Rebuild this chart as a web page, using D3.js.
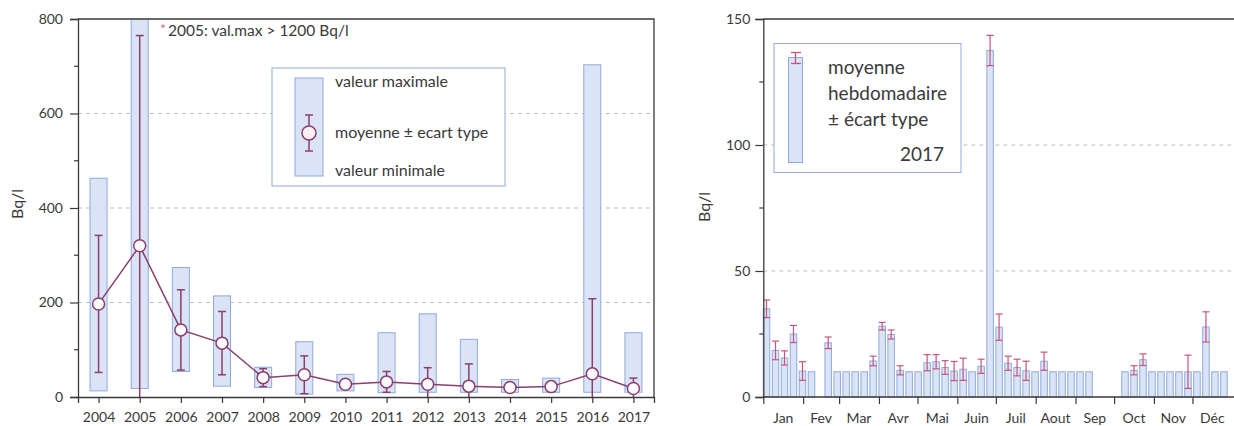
<!DOCTYPE html>
<html>
<head>
<meta charset="utf-8">
<script src="https://cdn.jsdelivr.net/npm/d3@7"></script>
<style>
  html, body { margin: 0; padding: 0; background: #fff; }
  svg { display: block; font-family: Lato, "Open Sans", sans-serif; }
</style>
</head>
<body>
<svg id="chart" width="1234" height="426"></svg>
<script>
// ---- Annual summary 2004-2017 (Bq/l) ----
const years    = [2004, 2005, 2006, 2007, 2008, 2009, 2010, 2011, 2012, 2013, 2014, 2015, 2016, 2017];
const maxVals  = [463, 1220, 274, 214, 63, 117, 48, 136, 176, 122, 37, 40, 703, 136];
const minVals  = [13, 18, 54, 23, 20, 6, 13, 9, 10, 10, 10, 10, 10, 10];
const meanVals = [197, 320, 142, 114, 41, 47, 27, 32, 27, 23, 20, 22, 49, 18];
const sdVals   = [145, 445, 85, 67, 19, 40, 8, 22, 35, 47, 4, 4, 159, 22];
const yTicksL  = [0, 200, 400, 600, 800];

// ---- Weekly means 2017 (Bq/l); null = no deviation shown ----
const weekDates = [
  "2017-01-03", "2017-01-10", "2017-01-17", "2017-01-24", "2017-01-31", "2017-02-07",
  "2017-02-20", "2017-02-27", "2017-03-06", "2017-03-13", "2017-03-20", "2017-03-27",
  "2017-04-03", "2017-04-10", "2017-04-17", "2017-04-24", "2017-05-01", "2017-05-08",
  "2017-05-15", "2017-05-22", "2017-05-29", "2017-06-05", "2017-06-12", "2017-06-19",
  "2017-06-26", "2017-07-03", "2017-07-10", "2017-07-17", "2017-07-24", "2017-07-31",
  "2017-08-07", "2017-08-14", "2017-08-21", "2017-08-28", "2017-09-04", "2017-09-11",
  "2017-10-09", "2017-10-16", "2017-10-23", "2017-10-30", "2017-11-06", "2017-11-13",
  "2017-11-20", "2017-11-27", "2017-12-04", "2017-12-11", "2017-12-18", "2017-12-25"
];
const weekMeans = [
  35, 18.5, 15.5, 25, 10.3, 10,
  21.5, 10, 10, 10, 10, 14.3,
  28.1, 24.8, 10.6, 10, 10, 13.6,
  14, 11.7, 10.3, 11, 10, 12.2,
  137.5, 27.7, 13.4, 11.7, 10.4, 10,
  14.2, 10, 10, 10, 10, 10,
  10, 10.6, 14.8, 10, 10, 10,
  10, 10, 10, 27.8, 10, 10
];
const weekSd = [
  3.5, 3.7, 2.8, 3.4, 3.7, null,
  2.3, null, null, null, null, 1.9,
  1.5, 1.8, 1.8, null, null, 3.2,
  2.8, 2.7, 3.8, 4.4, null, 2.8,
  6, 5.2, 2.8, 3.3, 3.8, null,
  3.6, null, null, null, null, null,
  null, 1.8, 2.3, null, null, null,
  null, 6.6, null, 6, null, null
];
const monthLabels = ["Jan", "Fev", "Mar", "Avr", "Mai", "Juin", "Juil", "Aout", "Sep", "Oct", "Nov", "Déc"];
const yTicksR = [0, 50, 100, 150];

// ---- styling ----
const ink = "#3a3a3a";
const barFill = "#dae4f6";
const barStroke = "#8eaadc";
const meanColor = "#8a3f6f";
const sdColor = "#c9537d";
const gridColor = "#bdbdbd";

const svg = d3.select("#chart");
svg.append("rect").attr("width", 1234).attr("height", 426).attr("fill", "#fff");

function styleAxis(g, size) {
  g.selectAll("path.domain").attr("stroke", ink).attr("stroke-width", 1.3);
  g.selectAll(".tick line").attr("stroke", ink).attr("stroke-width", 1.2);
  g.selectAll(".tick text").attr("fill", ink).style("font-size", size + "px")
    .style("font-family", "Lato, 'Open Sans', sans-serif");
}

// =================== left panel: annual statistics ===================
const L = { x0: 78, x1: 654, y0: 19, y1: 397 };
const xL = d3.scaleLinear().domain([2003.5, 2017.5]).range([L.x0, L.x1]);
const yL = d3.scaleLinear().domain([0, 800]).range([L.y1, L.y0]);

const left = svg.append("g");
left.append("clipPath").attr("id", "clipL")
  .append("rect").attr("x", L.x0).attr("y", L.y0).attr("width", L.x1 - L.x0).attr("height", L.y1 - L.y0);

left.append("g").selectAll("line").data([200, 400, 600]).join("line")
  .attr("x1", L.x0).attr("x2", L.x1).attr("y1", d => yL(d)).attr("y2", d => yL(d))
  .attr("stroke", gridColor).attr("stroke-dasharray", "4,4");

const annual = years.map((y, i) => ({ year: y, max: maxVals[i], min: minVals[i], mean: meanVals[i], sd: sdVals[i] }));
const plotL = left.append("g").attr("clip-path", "url(#clipL)");

const barW = 17;
plotL.selectAll("rect.range").data(annual).join("rect").attr("class", "range")
  .attr("x", d => xL(d.year) - barW / 2).attr("width", barW)
  .attr("y", d => yL(d.max)).attr("height", d => yL(d.min) - yL(d.max))
  .attr("fill", barFill).attr("stroke", barStroke).attr("stroke-width", 1);

const capL = 4;
const errL = plotL.selectAll("g.err").data(annual).join("g").attr("class", "err")
  .attr("stroke", meanColor).attr("stroke-width", 1.5);
errL.append("line").attr("x1", d => xL(d.year)).attr("x2", d => xL(d.year))
  .attr("y1", d => yL(d.mean + d.sd)).attr("y2", d => yL(d.mean - d.sd));
errL.append("line").attr("x1", d => xL(d.year) - capL).attr("x2", d => xL(d.year) + capL)
  .attr("y1", d => yL(d.mean + d.sd)).attr("y2", d => yL(d.mean + d.sd));
errL.append("line").attr("x1", d => xL(d.year) - capL).attr("x2", d => xL(d.year) + capL)
  .attr("y1", d => yL(d.mean - d.sd)).attr("y2", d => yL(d.mean - d.sd));

left.append("path").datum(annual)
  .attr("d", d3.line().x(d => xL(d.year)).y(d => yL(d.mean)))
  .attr("fill", "none").attr("stroke", meanColor).attr("stroke-width", 1.5);

left.selectAll("circle.mean").data(annual).join("circle").attr("class", "mean")
  .attr("cx", d => xL(d.year)).attr("cy", d => yL(d.mean)).attr("r", 6)
  .attr("fill", "#fffafc").attr("stroke", meanColor).attr("stroke-width", 1.5);

// axes and frame
const gyL = left.append("g").attr("transform", `translate(${L.x0},0)`)
  .call(d3.axisLeft(yL).tickValues(yTicksL).tickSize(8).tickPadding(7));
styleAxis(gyL, 14);
left.append("g").selectAll("line").data([100, 300, 500, 700]).join("line")
  .attr("x1", L.x0 - 4).attr("x2", L.x0).attr("y1", d => yL(d)).attr("y2", d => yL(d))
  .attr("stroke", ink).attr("stroke-width", 1.2);
const gxL = left.append("g").attr("transform", `translate(0,${L.y1})`)
  .call(d3.axisBottom(xL).tickValues(years).tickFormat(d3.format("d")).tickSize(6).tickPadding(9));
styleAxis(gxL, 14);
left.append("path").attr("d", `M${L.x0},${L.y0}H${L.x1}V${L.y1}`)
  .attr("fill", "none").attr("stroke", ink).attr("stroke-width", 1.3);

left.append("text").attr("transform", `translate(19,204) rotate(-90)`)
  .attr("text-anchor", "middle").attr("dominant-baseline", "middle")
  .attr("fill", ink).style("font-size", "16px").text("Bq/l");

// note about 2005 maximum
const note = left.append("g").style("font-size", "15.5px");
note.append("text").attr("x", 160).attr("y", 34).attr("fill", "#d46a8c").style("font-size", "14px").text("*");
note.append("text").attr("x", 168).attr("y", 36).attr("fill", ink).text("2005: val.max > 1200 Bq/l");

// legend
const legL = left.append("g");
legL.append("rect").attr("x", 272).attr("y", 68).attr("width", 233).attr("height", 118)
  .attr("fill", "#fff").attr("stroke", barStroke).attr("stroke-width", 1);
legL.append("rect").attr("x", 295).attr("y", 78).attr("width", 28).attr("height", 98)
  .attr("fill", barFill).attr("stroke", barStroke);
legL.append("line").attr("x1", 309).attr("x2", 309).attr("y1", 115).attr("y2", 151)
  .attr("stroke", meanColor).attr("stroke-width", 1.5);
legL.selectAll("line.cap").data([115, 151]).join("line").attr("class", "cap")
  .attr("x1", 305).attr("x2", 313).attr("y1", d => d).attr("y2", d => d)
  .attr("stroke", meanColor).attr("stroke-width", 1.5);
legL.append("circle").attr("cx", 309).attr("cy", 133).attr("r", 7)
  .attr("fill", "#fdf0f5").attr("stroke", meanColor).attr("stroke-width", 1.5);
legL.selectAll("text").data([
  { t: "valeur maximale", y: 83 },
  { t: "moyenne ± ecart type", y: 134 },
  { t: "valeur minimale", y: 172 }
]).join("text").attr("x", 335).attr("y", d => d.y).attr("dominant-baseline", "middle")
  .attr("fill", ink).style("font-size", "16px").text(d => d.t);

// =================== right panel: weekly 2017 ===================
const R = { x0: 763.3, x1: 1232.3, y0: 19, y1: 397, edge: 1234 };
const xR = d3.scaleTime().domain([new Date(2017, 0, 1), new Date(2018, 0, 1)]).range([R.x0, R.x1]);
const yR = d3.scaleLinear().domain([0, 150]).range([R.y1, R.y0]);
const parse = d3.timeParse("%Y-%m-%d");

const right = svg.append("g");
right.append("g").selectAll("line").data([50, 100]).join("line")
  .attr("x1", R.x0).attr("x2", R.edge).attr("y1", d => yR(d)).attr("y2", d => yR(d))
  .attr("stroke", gridColor).attr("stroke-dasharray", "4,4");

const weekly = weekDates.map((s, i) => ({ date: d3.timeHour.offset(parse(s), 12), mean: weekMeans[i], sd: weekSd[i] }));
const wBar = 6.5;
right.selectAll("rect.week").data(weekly).join("rect").attr("class", "week")
  .attr("x", d => xR(d.date) - wBar / 2).attr("width", wBar)
  .attr("y", d => yR(d.mean)).attr("height", d => yR(0) - yR(d.mean))
  .attr("fill", barFill).attr("stroke", barStroke).attr("stroke-width", 1);

const capR = 3.5;
const errR = right.selectAll("g.werr").data(weekly.filter(d => d.sd != null)).join("g").attr("class", "werr")
  .attr("stroke", sdColor).attr("stroke-width", 1.2);
errR.append("line").attr("x1", d => xR(d.date)).attr("x2", d => xR(d.date))
  .attr("y1", d => yR(d.mean + d.sd)).attr("y2", d => yR(d.mean - d.sd));
errR.append("line").attr("x1", d => xR(d.date) - capR).attr("x2", d => xR(d.date) + capR)
  .attr("y1", d => yR(d.mean + d.sd)).attr("y2", d => yR(d.mean + d.sd));
errR.append("line").attr("x1", d => xR(d.date) - capR).attr("x2", d => xR(d.date) + capR)
  .attr("y1", d => yR(d.mean - d.sd)).attr("y2", d => yR(d.mean - d.sd));

const gyR = right.append("g").attr("transform", `translate(${R.x0},0)`)
  .call(d3.axisLeft(yR).tickValues(yTicksR).tickSize(8).tickPadding(5));
styleAxis(gyR, 14);
right.append("g").selectAll("line").data([25, 75, 125]).join("line")
  .attr("x1", R.x0 - 4).attr("x2", R.x0).attr("y1", d => yR(d)).attr("y2", d => yR(d))
  .attr("stroke", ink).attr("stroke-width", 1.2);

const months = d3.timeMonth.range(new Date(2017, 0, 1), new Date(2018, 0, 1));
const gxR = right.append("g").attr("transform", `translate(0,${R.y1})`)
  .call(d3.axisBottom(xR).tickValues(months).tickFormat("").tickSize(7).tickSizeOuter(0));
styleAxis(gxR, 14);
gxR.select("path.domain").remove();
right.append("path").attr("d", `M${R.x0},${R.y1}H${R.edge}M${R.x0},${R.y0}H${R.edge}`)
  .attr("fill", "none").attr("stroke", ink).attr("stroke-width", 1.3);

right.append("g").selectAll("text").data(months).join("text")
  .attr("x", d => (xR(d) + xR(d3.timeMonth.offset(d, 1))) / 2).attr("y", 423)
  .attr("text-anchor", "middle").attr("fill", ink).style("font-size", "14px")
  .text((d, i) => monthLabels[i]);

right.append("text").attr("transform", `translate(706,207) rotate(-90)`)
  .attr("text-anchor", "middle").attr("dominant-baseline", "middle")
  .attr("fill", ink).style("font-size", "16px").text("Bq/l");

// legend
const legR = right.append("g");
legR.append("rect").attr("x", 774).attr("y", 43.5).attr("width", 187).attr("height", 129)
  .attr("fill", "#fff").attr("stroke", barStroke).attr("stroke-width", 1);
legR.append("rect").attr("x", 788.5).attr("y", 57.5).attr("width", 14).attr("height", 105)
  .attr("fill", barFill).attr("stroke", barStroke);
legR.append("line").attr("x1", 795.5).attr("x2", 795.5).attr("y1", 52.5).attr("y2", 63.5)
  .attr("stroke", sdColor).attr("stroke-width", 1.3);
legR.selectAll("line.cap").data([52.5, 63.5]).join("line").attr("class", "cap")
  .attr("x1", 791).attr("x2", 801).attr("y1", d => d).attr("y2", d => d)
  .attr("stroke", sdColor).attr("stroke-width", 1.3);
legR.selectAll("text.l").data([
  { t: "moyenne", y: 69 },
  { t: "hebdomadaire", y: 95.5 },
  { t: "± écart type", y: 121 }
]).join("text").attr("class", "l").attr("x", 828).attr("y", d => d.y).attr("dominant-baseline", "middle")
  .attr("fill", ink).style("font-size", "19px").text(d => d.t);
legR.append("text").attr("x", 944).attr("y", 156).attr("text-anchor", "end").attr("dominant-baseline", "middle")
  .attr("fill", ink).style("font-size", "19px").text("2017");
</script>
</body>
</html>
